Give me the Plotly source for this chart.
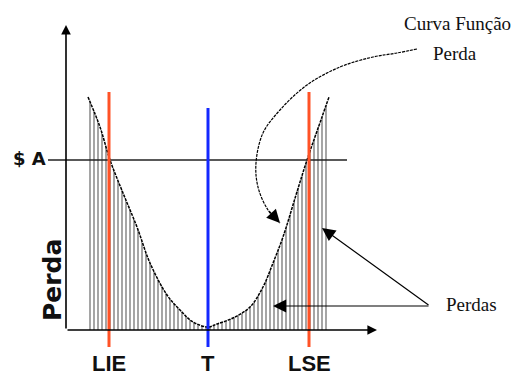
import plotly.graph_objects as go

# loss function curve (x: characteristic, T = 0 ; y: loss, 0 on the x axis)
curve_x = [-120, -108, -98, -85, -71, -58, -41, -28, -15, 0, 9, 25, 42, 55, 65, 75, 88, 99, 114, 121]
curve_y = [233, 203, 170, 137, 103, 67, 35, 20, 8, 3, 6, 12, 23, 43, 67, 93, 135, 170, 213, 233]

# specification limits and target
spec_names = ["LIE", "T", "LSE"]
spec_x = [-99, 0, 101]
spec_top = [238, 222, 238]
spec_colors = ["#FF5226", "#1428FF", "#FF5226"]

# cost level $A
A_level = 170
A_span = [-160, 139]

# axes extents
axis_origin = [-142, 0]
x_axis_end = 169
y_axis_end = 305

# curved pointer from "Curva Função Perda" to the curve
pointer_x = [209, 189, 165, 132, 99, 72, 55, 48, 50, 60, 72]
pointer_y = [281, 277, 273, 263, 245, 220, 197, 167, 143, 120, 107]

# "Perdas" pointers (tail -> tips)
perdas_tail = [222, 24]
perdas_tips_x = [114, 65]
perdas_tips_y = [102, 24]

fig = go.Figure()

# hatched area under the curve
fig.add_trace(go.Scatter(
    x=curve_x, y=curve_y,
    mode='lines',
    line=dict(color='black', width=1.5, dash='3px,1px', shape='spline'),
    fill='tozeroy',
    fillcolor='white',
    fillpattern=dict(shape='|', size=4, solidity=0.35, fgcolor='black', bgcolor='white'),
    hoverinfo='skip',
    showlegend=False
))

# $A line
fig.add_trace(go.Scatter(
    x=A_span, y=[A_level, A_level],
    mode='lines',
    line=dict(color='#222222', width=1.6),
    hoverinfo='skip',
    showlegend=False
))

# spec lines
for name, sx, top, col in zip(spec_names, spec_x, spec_top, spec_colors):
    fig.add_trace(go.Scatter(
        x=[sx, sx], y=[-17, top],
        mode='lines',
        line=dict(color=col, width=3),
        hoverinfo='skip',
        showlegend=False
    ))
    fig.add_annotation(
        x=sx, y=-33, text='<b>' + name + '</b>', showarrow=False,
        font=dict(family='Liberation Sans Narrow, Arial Narrow, Liberation Sans', size=22, color='#111111'),
        xanchor='center', yanchor='middle'
    )

# curved pointer
fig.add_trace(go.Scatter(
    x=pointer_x, y=pointer_y,
    mode='lines',
    line=dict(color='black', width=1.2, dash='3px,1px', shape='spline'),
    hoverinfo='skip',
    showlegend=False
))

arrow_common = dict(xref='x', yref='y', axref='x', ayref='y', text='', showarrow=True,
                    arrowhead=2, arrowcolor='black')

# pointer head
fig.add_annotation(x=pointer_x[-1], y=pointer_y[-1], ax=pointer_x[-2], ay=pointer_y[-2],
                   arrowwidth=1.2, arrowsize=2.2, **arrow_common)

# axes
fig.add_annotation(x=axis_origin[0], y=y_axis_end, ax=axis_origin[0], ay=axis_origin[1],
                   arrowwidth=1.6, arrowsize=1.2, **arrow_common)
fig.add_annotation(x=x_axis_end, y=axis_origin[1], ax=axis_origin[0], ay=axis_origin[1],
                   arrowwidth=1.6, arrowsize=1.2, **arrow_common)

# Perdas pointers
for tx, ty in zip(perdas_tips_x, perdas_tips_y):
    fig.add_annotation(x=tx, y=ty, ax=perdas_tail[0], ay=perdas_tail[1],
                       arrowwidth=1.2, arrowsize=2.2, **arrow_common)

# text labels
fig.add_annotation(x=-179, y=A_level + 2, text='<b>$ A</b>', showarrow=False,
                   font=dict(family='DejaVu Sans', size=18, color='#111111'))
fig.add_annotation(x=-156, y=50, text='<b>Perda</b>', showarrow=False, textangle=-90,
                   font=dict(family='DejaVu Sans', size=25, color='#111111'))

serif = dict(family='Liberation Serif, Times New Roman', size=19, color='#111111')
fig.add_annotation(x=249, y=307, text='Curva Função', showarrow=False, font=serif)
fig.add_annotation(x=247, y=277, text='Perda', showarrow=False, font=serif)
fig.add_annotation(x=263, y=26, text='Perdas', showarrow=False, font=serif)

fig.update_layout(
    width=512, height=376,
    margin=dict(l=0, r=0, t=0, b=0),
    plot_bgcolor='white',
    paper_bgcolor='white',
    xaxis=dict(range=[-208, 304], visible=False, fixedrange=True),
    yaxis=dict(range=[-46, 330], visible=False, fixedrange=True),
    showlegend=False
)

fig.write_html("out.html", config={'displayModeBar': False},
               post_script="document.body.style.margin = '0';")
